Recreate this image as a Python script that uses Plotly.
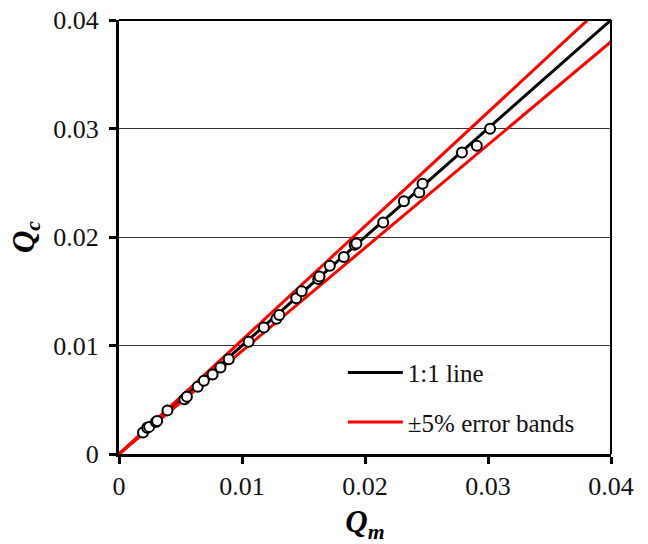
import plotly.graph_objects as go

# Measured vs. computed discharge
qm = [0.00195, 0.00229, 0.00245, 0.00300, 0.00310, 0.00394, 0.00532, 0.00552,
      0.00640, 0.00690, 0.00761, 0.00825, 0.00892, 0.01054, 0.01178, 0.01280,
      0.01303, 0.01441, 0.01485, 0.01620, 0.01630, 0.01714, 0.01828, 0.01916,
      0.01930, 0.02148, 0.02316, 0.02441, 0.02468, 0.02788, 0.02909, 0.03017]
qc = [0.00199, 0.00241, 0.00250, 0.00295, 0.00305, 0.00402, 0.00504, 0.00527,
      0.00620, 0.00675, 0.00733, 0.00797, 0.00874, 0.01035, 0.01166, 0.01247,
      0.01282, 0.01436, 0.01500, 0.01613, 0.01635, 0.01735, 0.01815, 0.01928,
      0.01940, 0.02133, 0.02330, 0.02410, 0.02490, 0.02779, 0.02840, 0.02997]

# Reference lines
line_x = [0.0, 0.04]
band = 0.05

tick_vals = [0, 0.01, 0.02, 0.03, 0.04]
tick_text = ["0", "0.01", "0.02", "0.03", "0.04"]

FONT = "Liberation Serif"

fig = go.Figure()

# 1:1 line
fig.add_trace(go.Scatter(
    x=line_x, y=line_x, mode="lines", name="1:1 line",
    line=dict(color="black", width=3), legendgroup="a",
))

# +/-5% error bands (one legend entry for both lines)
band_x = line_x + [None] + line_x
band_y = [v * (1 + band) for v in line_x] + [None] + [v * (1 - band) for v in line_x]
fig.add_trace(go.Scatter(
    x=band_x, y=band_y, mode="lines", name="±5% error bands",
    line=dict(color="#ff0000", width=3), legendgroup="b",
))

# observations
fig.add_trace(go.Scatter(
    x=qm, y=qc, mode="markers", showlegend=False,
    marker=dict(size=10, color="white", line=dict(color="black", width=2)),
))

axis_common = dict(
    range=[0, 0.04], tickvals=tick_vals, ticktext=tick_text,
    showline=True, linecolor="black", linewidth=3,
    ticks="outside", ticklen=7, tickwidth=3, tickcolor="black",
    tickfont=dict(family=FONT, size=26, color="#111111"),
    zeroline=False, automargin=False,
)

fig.update_layout(
    width=648, height=544,
    margin=dict(l=119, r=37, t=20, b=90),
    paper_bgcolor="white", plot_bgcolor="white",
    font=dict(family=FONT, color="black"),
    xaxis=dict(**axis_common, showgrid=False,
               title=dict(text="<b><i>Q</i></b><sub><b><i>m</i></b></sub>",
                          font=dict(family=FONT, size=31, color="black"),
                          standoff=14)),
    yaxis=dict(**axis_common, showgrid=True, gridcolor="#333333", gridwidth=1.2,
               ticklabelstandoff=5,
               title=dict(text="<b><i>Q</i></b><sub><b><i>c</i></b></sub>",
                          font=dict(family=FONT, size=31, color="black"),
                          standoff=10)),
    legend=dict(
        x=0.455, y=0.24, xanchor="left", yanchor="top",
        bgcolor="rgba(0,0,0,0)", borderwidth=0,
        font=dict(family=FONT, size=25, color="#111111"),
        tracegroupgap=14, itemwidth=55,
    ),
    shapes=[
        # top and right frame edges
        dict(type="line", xref="paper", yref="paper", x0=0, x1=1, y0=1, y1=1,
             line=dict(color="black", width=2)),
        dict(type="line", xref="paper", yref="paper", x0=1, x1=1, y0=0, y1=1,
             line=dict(color="black", width=2)),
    ],
)

fig.write_html("out.html")
